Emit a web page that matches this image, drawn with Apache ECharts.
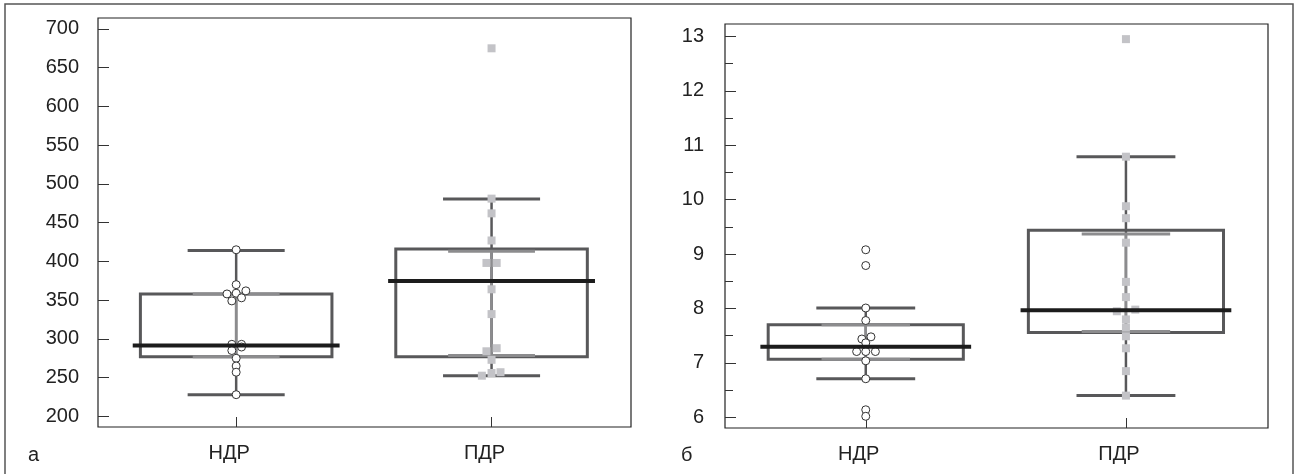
<!DOCTYPE html>
<html>
<head>
<meta charset="utf-8">
<script src="https://cdn.jsdelivr.net/npm/echarts@6/dist/echarts.min.js"></script>
<style>
html,body{margin:0;padding:0;background:#fff;}
#chart{width:1298px;height:474px;}
</style>
</head>
<body>
<div id="chart"></div>
<script>
// ---------- DATA ----------
const categories = ['НДР', 'ПДР'];
const panelLetters = ['а', 'б'];

// Panel а
const aTicks = [200, 250, 300, 350, 400, 450, 500, 550, 600, 650, 700];
const aWhiskerLow  = [228, 252.5];
const aQ1          = [277, 277];
const aMedian      = [291.6, 374.7];
const aQ3          = [358, 416];
const aWhiskerHigh = [414, 480.5];
const aInnerLow    = [277, 278.7];
const aInnerHigh   = [358, 413];
// [value, jitter]
const aPointsNDR = [[415,0],[370,0],[358,-0.036],[359,0],[362,0.038],[353,0.021],[349,-0.017],
                    [293,-0.017],[293,0.021],[285,-0.017],[289.5,0.021],[275,0],[265,0],[257,0],[228,0]];
const aPointsPDR = [[675,0],[481,0],[462,0],[427,0],[398,-0.02],[398,0.02],[364,0],[332,0],
                    [284,-0.02],[288,0.02],[273,0],[257,0.035],[256,0],[252.5,-0.038]];

// Panel б
const bTicks = [6, 7, 8, 9, 10, 11, 12, 13];
const bMinorTicks = [6.5, 7.5, 8.5, 9.5, 10.5, 11.5, 12.5];
const bWhiskerLow  = [6.71, 6.40];
const bQ1          = [7.07, 7.56];
const bMedian      = [7.30, 7.97];
const bQ3          = [7.70, 9.44];
const bWhiskerHigh = [8.01, 10.79];
const bInnerLow    = [7.07, 7.58];
const bInnerHigh   = [7.70, 9.37];
const bPointsNDR = [[9.08,0],[8.79,0],[8.01,0],[7.78,0],[7.48,0.02],[7.44,-0.015],[7.37,0],
                    [7.21,-0.035],[7.21,0],[7.21,0.037],[7.04,0],[6.71,0],[6.14,0],[6.02,0]];
const bPointsPDR = [[12.95,0],[10.79,0],[9.88,0],[9.66,0],[9.21,0],[8.49,0],[8.21,0],
                    [7.95,-0.035],[7.98,0.036],[7.8,0],[7.65,0],[7.49,0],[7.27,0],[6.85,0],[6.40,0]];

// ---------- STYLE ----------
const FONT = 'Liberation Sans, Arial, sans-serif';
const DARK = '#58585a';
const LIGHT = '#8c8c8e';
const MED = '#1c1c1c';
const SQUARE = '#c3c3c7';
const BOX_HALF = 0.375, MED_HALF = 0.405, CAP_HALF = 0.19, INNER_HALF = 0.17;

function boxData(wl, q1, med, q3, wh, il, ih) {
  return categories.map((c, i) => [i, wl[i], q1[i], med[i], q3[i], wh[i], il[i], ih[i]]);
}
function pts(arr, cat) { return arr.map(p => [cat + p[1], p[0]]); }

function line(api, x1, y1, x2, y2, color, w) {
  const p1 = api.coord([x1, y1]), p2 = api.coord([x2, y2]);
  return { type: 'line', shape: { x1: p1[0], y1: p1[1], x2: p2[0], y2: p2[1] },
           style: { stroke: color, lineWidth: w } };
}
function renderBox(params, api) {
  const x = api.value(0), wl = api.value(1), q1 = api.value(2), q3 = api.value(4),
        wh = api.value(5), il = api.value(6), ih = api.value(7);
  const tl = api.coord([x - BOX_HALF, q3]), br = api.coord([x + BOX_HALF, q1]);
  return { type: 'group', children: [
    line(api, x, wl, x, wh, DARK, 2.5),
    line(api, x - CAP_HALF, wl, x + CAP_HALF, wl, DARK, 3),
    line(api, x - CAP_HALF, wh, x + CAP_HALF, wh, DARK, 3),
    { type: 'rect', shape: { x: tl[0], y: tl[1], width: br[0] - tl[0], height: br[1] - tl[1] },
      style: { fill: 'none', stroke: DARK, lineWidth: 3 } },
    line(api, x, il, x, ih, LIGHT, 2.5),
    line(api, x - INNER_HALF, il, x + INNER_HALF, il, LIGHT, 3),
    line(api, x - INNER_HALF, ih, x + INNER_HALF, ih, LIGHT, 3)
  ]};
}
function renderMedian(params, api) {
  const x = api.value(0), m = api.value(3);
  return line(api, x - MED_HALF, m, x + MED_HALF, m, MED, 4);
}

const xAxisBase = {
  type: 'value', min: -0.541, max: 1.546, position: 'bottom',
  axisLine: { show: false, onZero: false }, splitLine: { show: false },
  axisTick: { show: true, inside: true, length: 10, customValues: [0, 1],
              lineStyle: { color: '#333', width: 1 } },
  axisLabel: { customValues: [0, 1], formatter: v => categories[Math.round(v)] || '',
               fontFamily: FONT, fontSize: 20, color: '#222', margin: 16,
               padding: [0, 14, 0, 0] }
};
function yAxisBase(gridIndex, min, max, ticks, margin) {
  return {
    type: 'value', gridIndex, min, max, position: 'left',
    axisLine: { show: false, onZero: false }, splitLine: { show: false },
    axisTick: { show: true, inside: true, length: 11, customValues: ticks,
                lineStyle: { color: '#333', width: 1 } },
    axisLabel: { customValues: ticks, fontFamily: FONT, fontSize: 20, color: '#222', margin: margin }
  };
}

const option = {
  animation: false,
  backgroundColor: '#fff',
  grid: [
    { left: 98, top: 18, width: 533, height: 409, show: true, borderColor: '#222', borderWidth: 1.2, containLabel: false },
    { left: 725, top: 24, width: 543, height: 404, show: true, borderColor: '#222', borderWidth: 1.2, containLabel: false }
  ],
  xAxis: [
    Object.assign({}, xAxisBase, { gridIndex: 0 }),
    Object.assign({}, xAxisBase, { gridIndex: 1 })
  ],
  yAxis: [
    yAxisBase(0, 186.3, 714.1, aTicks, 19),
    yAxisBase(1, 5.805, 13.228, bTicks, 21),
    { type: 'value', gridIndex: 1, min: 5.805, max: 13.228, position: 'left',
      axisLine: { show: false, onZero: false }, splitLine: { show: false },
      axisTick: { show: true, inside: true, length: 8, customValues: bMinorTicks,
                  lineStyle: { color: '#333', width: 1 } },
      axisLabel: { show: false } }
  ],
  graphic: [
    { type: 'rect', shape: { x: 5, y: 4, width: 1288, height: 480 },
      style: { fill: 'none', stroke: '#555', lineWidth: 1.5 }, silent: true },
    { type: 'text', left: 28, top: 445, style: { text: panelLetters[0], font: '20px ' + FONT, fill: '#222' } },
    { type: 'text', left: 681, top: 445, style: { text: panelLetters[1], font: '20px ' + FONT, fill: '#222' } }
  ],
  series: [
    { type: 'custom', xAxisIndex: 0, yAxisIndex: 0, z: 2, renderItem: renderBox,
      data: boxData(aWhiskerLow, aQ1, aMedian, aQ3, aWhiskerHigh, aInnerLow, aInnerHigh) },
    { type: 'scatter', xAxisIndex: 0, yAxisIndex: 0, z: 3, symbol: 'circle', symbolSize: 8,
      itemStyle: { color: '#fff', borderColor: '#333', borderWidth: 1, opacity: 1 },
      data: pts(aPointsNDR, 0) },
    { type: 'scatter', xAxisIndex: 0, yAxisIndex: 0, z: 3, symbol: 'rect', symbolSize: 8,
      itemStyle: { color: SQUARE, opacity: 1 }, data: pts(aPointsPDR, 1) },
    { type: 'custom', xAxisIndex: 0, yAxisIndex: 0, z: 4, renderItem: renderMedian,
      data: boxData(aWhiskerLow, aQ1, aMedian, aQ3, aWhiskerHigh, aInnerLow, aInnerHigh) },

    { type: 'custom', xAxisIndex: 1, yAxisIndex: 1, z: 2, renderItem: renderBox,
      data: boxData(bWhiskerLow, bQ1, bMedian, bQ3, bWhiskerHigh, bInnerLow, bInnerHigh) },
    { type: 'scatter', xAxisIndex: 1, yAxisIndex: 1, z: 3, symbol: 'circle', symbolSize: 8,
      itemStyle: { color: '#fff', borderColor: '#333', borderWidth: 1, opacity: 1 },
      data: pts(bPointsNDR, 0) },
    { type: 'scatter', xAxisIndex: 1, yAxisIndex: 1, z: 3, symbol: 'rect', symbolSize: 8,
      itemStyle: { color: SQUARE, opacity: 1 }, data: pts(bPointsPDR, 1) },
    { type: 'custom', xAxisIndex: 1, yAxisIndex: 1, z: 4, renderItem: renderMedian,
      data: boxData(bWhiskerLow, bQ1, bMedian, bQ3, bWhiskerHigh, bInnerLow, bInnerHigh) }
  ]
};

const chart = echarts.init(document.getElementById('chart'), null, { renderer: 'canvas' });
chart.setOption(option);
</script>
</body>
</html>
